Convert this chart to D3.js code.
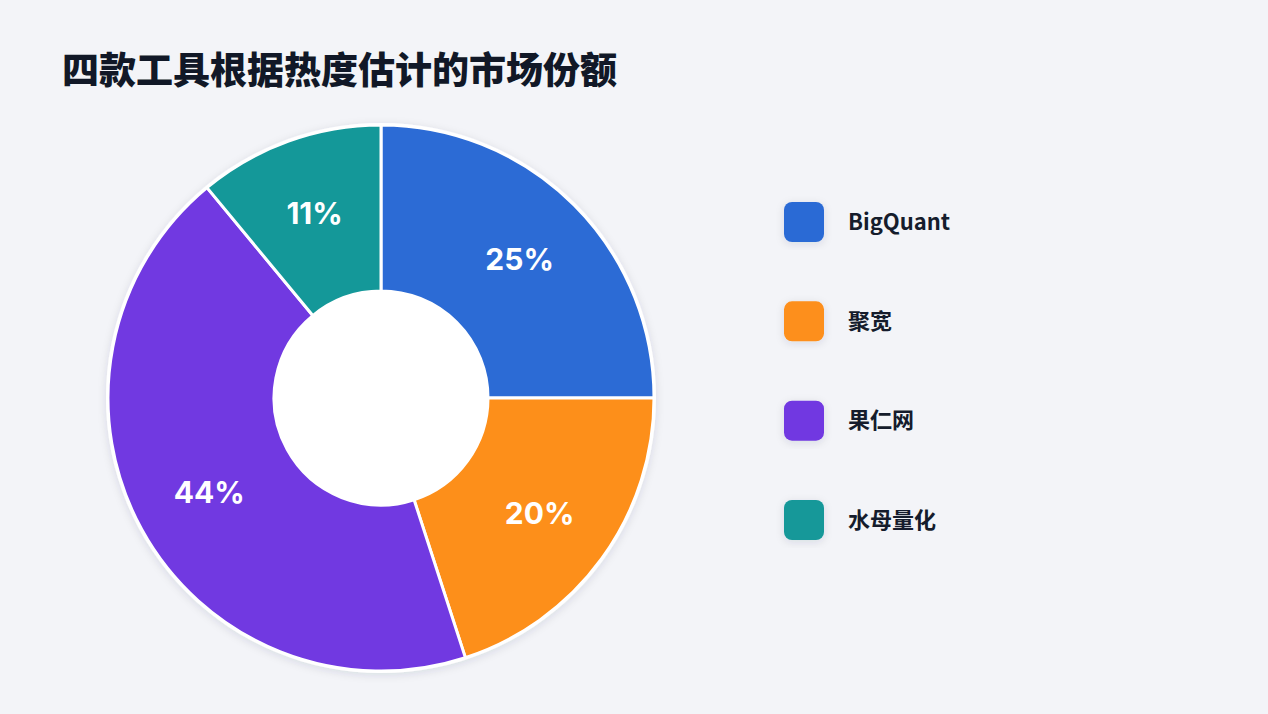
<!DOCTYPE html>
<html>
<head>
<meta charset="utf-8">
<script src="https://cdn.jsdelivr.net/npm/d3@7"></script>
<style>
  html, body { margin: 0; padding: 0; background: #f3f4f8; }
  svg { display: block; font-family: "Noto Sans CJK SC", "Noto Sans", sans-serif; }
</style>
</head>
<body>
<div id="chart"></div>
<script>
// ---- data ----
const categories = ["BigQuant", "聚宽", "果仁网", "水母量化"];
const shares = [25, 20, 44, 11];
const colors = ["#2c6bd5", "#fd8f1a", "#7139e1", "#149899"];
const title = "四款工具根据热度估计的市场份额";

const width = 1268, height = 714;
const cx = 381, cy = 398;
const outerR = 273, innerR = 107;

const svg = d3.select("#chart").append("svg")
  .attr("width", width)
  .attr("height", height);

const defs = svg.append("defs");
const shadow = defs.append("filter").attr("id", "shadow")
  .attr("x", "-20%").attr("y", "-20%").attr("width", "140%").attr("height", "140%");
shadow.append("feDropShadow")
  .attr("dx", 0).attr("dy", 2).attr("stdDeviation", 4)
  .attr("flood-color", "#1f2a44").attr("flood-opacity", 0.12);

// background
svg.append("rect").attr("width", width).attr("height", height).attr("fill", "#f3f4f8");

// title
svg.append("text")
  .attr("x", 62)
  .attr("y", 84)
  .style("font-size", "37px")
  .style("font-weight", "900")
  .style("fill", "#111827")
  .text(title);

// ---- donut ----
const data = categories.map((c, i) => ({ name: c, value: shares[i], color: colors[i] }));

const pie = d3.pie().value(d => d.value).sort(null);
const arc = d3.arc().innerRadius(innerR).outerRadius(outerR);
const labelArc = d3.arc().innerRadius(196).outerRadius(196);

const g = svg.append("g").attr("transform", `translate(${cx},${cy})`);

g.append("circle")
  .attr("r", outerR + 2)
  .attr("fill", "#ffffff")
  .attr("filter", "url(#shadow)");

const arcs = pie(data);

g.selectAll("path.slice")
  .data(arcs)
  .enter()
  .append("path")
  .attr("class", "slice")
  .attr("d", arc)
  .attr("fill", d => d.data.color)
  .attr("stroke", "#ffffff")
  .attr("stroke-width", 3)
  .attr("stroke-linejoin", "round");

// inner hole
g.append("circle")
  .attr("r", innerR - 1)
  .attr("fill", "#ffffff");

g.selectAll("text.pct")
  .data(arcs)
  .enter()
  .append("text")
  .attr("class", "pct")
  .attr("transform", d => `translate(${labelArc.centroid(d)})`)
  .attr("text-anchor", "middle")
  .attr("dy", "0.36em")
  .style("font-family", "Inter, 'Noto Sans', sans-serif")
  .style("font-size", "30px")
  .style("font-weight", "700")
  .style("fill", "#ffffff")
  .text(d => `${d.data.value}%`);

// ---- legend ----
const legendY = d3.scalePoint()
  .domain(categories)
  .range([222, 520]);

const legend = svg.append("g");

const items = legend.selectAll("g.item")
  .data(data)
  .enter()
  .append("g")
  .attr("class", "item")
  .attr("transform", d => `translate(784,${legendY(d.name)})`);

items.append("rect")
  .attr("x", 0)
  .attr("y", -20)
  .attr("width", 40)
  .attr("height", 40)
  .attr("rx", 8)
  .attr("fill", d => d.color)
  .attr("filter", "url(#shadow)");

items.append("text")
  .attr("x", 64)
  .attr("y", 0)
  .attr("dy", "0.35em")
  .style("font-size", "22px")
  .style("font-weight", "700")
  .style("fill", "#151c2c")
  .text(d => d.name);
</script>
</body>
</html>
